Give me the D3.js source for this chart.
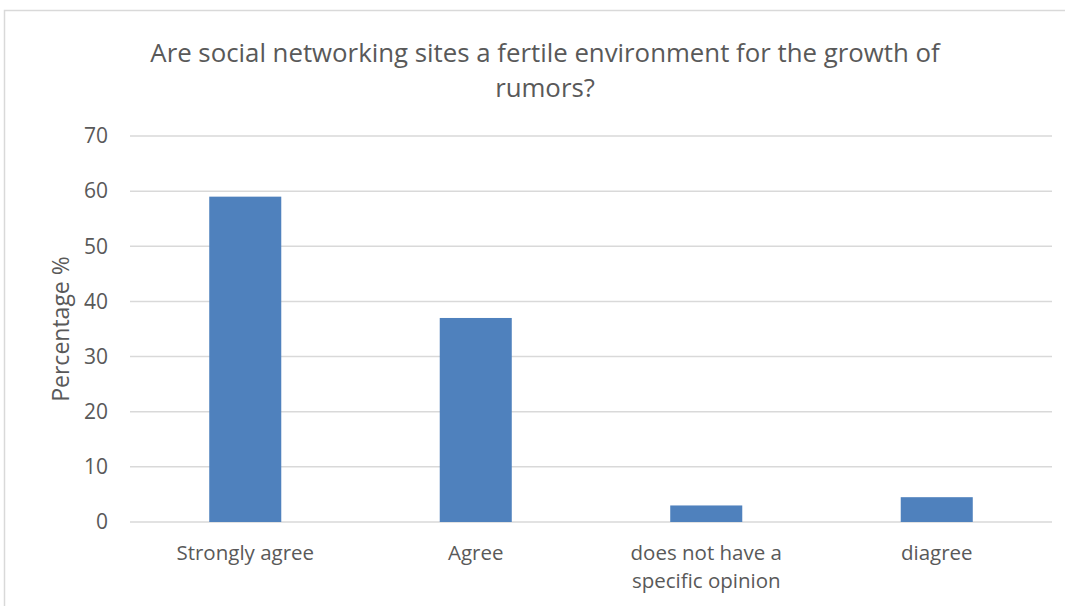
<!DOCTYPE html>
<html>
<head>
<meta charset="utf-8">
<script src="https://cdn.jsdelivr.net/npm/d3@7"></script>
<style>
  body { margin: 0; background: #fff; }
  svg { display: block; }
  text { fill: #595959; }
</style>
</head>
<body>
<div id="chart"></div>
<script>
// data
var categories = ["Strongly agree", "Agree", "does not have a specific opinion", "diagree"];
var labelLines = [["Strongly agree"], ["Agree"], ["does not have a", "specific opinion"], ["diagree"]];
var values = [59, 37, 3, 4.5];
var yTicks = [0, 10, 20, 30, 40, 50, 60, 70];
var titleLines = ["Are social networking sites a fertile environment for the growth of", "rumors?"];

var width = 1065, height = 606;
var margin = { top: 136, right: 13, bottom: 84, left: 130 };
var font = "'Open Sans', sans-serif";

var svg = d3.select("#chart").append("svg")
    .attr("width", width)
    .attr("height", height);

// chart border (runs off the right and bottom edges)
svg.append("rect")
    .attr("x", 4.5).attr("y", 10.5)
    .attr("width", 1200).attr("height", 800)
    .attr("fill", "none")
    .attr("stroke", "#d9d9d9")
    .attr("stroke-width", 1.5);

var x = d3.scaleBand()
    .domain(categories)
    .range([margin.left, width - margin.right])
    .padding(0);

var y = d3.scaleLinear()
    .domain([0, 70])
    .range([height - margin.bottom, margin.top]);

// gridlines
svg.append("g")
    .selectAll("line")
    .data(yTicks)
    .enter().append("line")
    .attr("x1", margin.left)
    .attr("x2", width - margin.right)
    .attr("y1", d => y(d))
    .attr("y2", d => y(d))
    .attr("stroke", "#d9d9d9")
    .attr("stroke-width", 1.5);

// y axis labels
var yAxis = d3.axisLeft(y).tickValues(yTicks).tickSize(0).tickPadding(0);
var yg = svg.append("g")
    .attr("transform", "translate(" + (margin.left - 22) + ",0)")
    .call(yAxis);
yg.select(".domain").remove();
yg.selectAll("text")
    .attr("font-family", font)
    .attr("font-size", 21)
    .style("fill", "#595959");

// bars
var barW = x.bandwidth() * 0.3125;
svg.append("g")
    .selectAll("rect")
    .data(values)
    .enter().append("rect")
    .attr("x", (d, i) => x(categories[i]) + (x.bandwidth() - barW) / 2)
    .attr("y", d => y(d))
    .attr("width", barW)
    .attr("height", d => y(0) - y(d))
    .attr("fill", "#4f81bd");

// x labels
var xl = svg.append("g")
    .selectAll("text")
    .data(categories)
    .enter().append("text")
    .attr("x", d => x(d) + x.bandwidth() / 2)
    .attr("y", 560)
    .attr("text-anchor", "middle")
    .attr("font-family", font)
    .attr("font-size", 20.5);
xl.selectAll("tspan")
    .data((d, i) => labelLines[i])
    .enter().append("tspan")
    .attr("x", function () { return d3.select(this.parentNode).attr("x"); })
    .attr("dy", (d, i) => i === 0 ? 0 : 28)
    .text(d => d);

// y axis title
svg.append("text")
    .attr("transform", "translate(69," + ((y(0) + y(70)) / 2) + ") rotate(-90)")
    .attr("text-anchor", "middle")
    .attr("font-family", font)
    .attr("font-size", 23)
    .text("Percentage %");

// title
svg.append("g")
    .selectAll("text")
    .data(titleLines)
    .enter().append("text")
    .attr("x", 545)
    .attr("y", (d, i) => 62 + i * 35)
    .attr("text-anchor", "middle")
    .attr("font-family", font)
    .attr("font-size", 25.8)
    .text(d => d);
</script>
</body>
</html>
